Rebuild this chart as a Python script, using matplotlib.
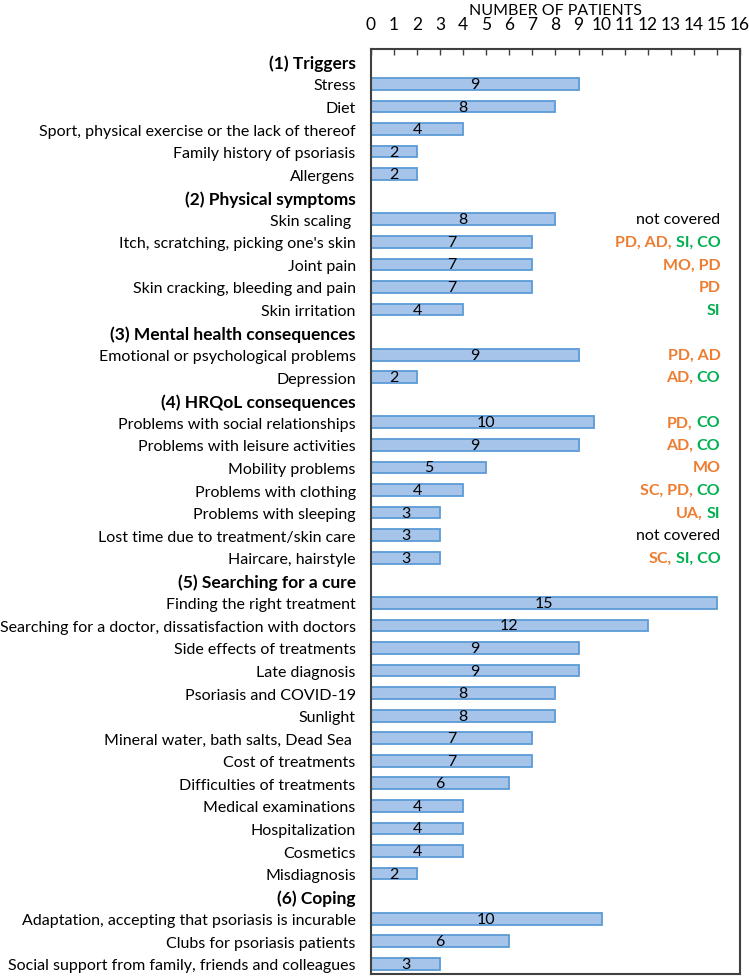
import matplotlib.pyplot as plt
import numpy as np

plt.rcParams['font.family'] = ['Lato', 'DejaVu Sans']

ORANGE = '#ed7d31'
GREEN = '#00b050'
BLACK = '#000000'

section_titles = ['(1) Triggers', '(2) Physical symptoms', '(3) Mental health consequences',
                  '(4) HRQoL consequences', '(5) Searching for a cure', '(6) Coping']

triggers = ['Stress', 'Diet', 'Sport, physical exercise or the lack of thereof',
            'Family history of psoriasis', 'Allergens']
triggers_n = [9, 8, 4, 2, 2]

physical = ['Skin scaling ', "Itch, scratching, picking one's skin", 'Joint pain',
            'Skin cracking, bleeding and pain', 'Skin irritation']
physical_n = [8, 7, 7, 7, 4]

mental = ['Emotional or psychological problems', 'Depression']
mental_n = [9, 2]

hrqol = ['Problems with social relationships', 'Problems with leisure activities',
         'Mobility problems', 'Problems with clothing', 'Problems with sleeping',
         'Lost time due to treatment/skin care', 'Haircare, hairstyle']
hrqol_n = [10, 9, 5, 4, 3, 3, 3]
hrqol_bar = [9.65, 9, 5, 4, 3, 3, 3]   # first bar is drawn a bit short in the source

cure = ['Finding the right treatment', 'Searching for a doctor, dissatisfaction with doctors',
        'Side effects of treatments', 'Late diagnosis', 'Psoriasis and COVID-19', 'Sunlight',
        'Mineral water, bath salts, Dead Sea ', 'Cost of treatments',
        'Difficulties of treatments', 'Medical examinations', 'Hospitalization',
        'Cosmetics', 'Misdiagnosis']
cure_n = [15, 12, 9, 9, 8, 8, 7, 7, 6, 4, 4, 4, 2]

coping = ['Adaptation, accepting that psoriasis is incurable', 'Clubs for psoriasis patients',
          'Social support from family, friends and colleagues']
coping_n = [10, 6, 3]

# right-hand coverage notes, keyed by item label: list of (text, colour)
notes = {
    'Skin scaling ': [('not covered', BLACK)],
    "Itch, scratching, picking one's skin": [('PD, AD,', ORANGE), ('SI, CO', GREEN)],
    'Joint pain': [('MO, PD', ORANGE)],
    'Skin cracking, bleeding and pain': [('PD', ORANGE)],
    'Skin irritation': [('SI', GREEN)],
    'Emotional or psychological problems': [('PD, AD', ORANGE)],
    'Depression': [('AD,', ORANGE), ('CO', GREEN)],
    'Problems with social relationships': [('PD,', ORANGE), ('CO', GREEN)],
    'Problems with leisure activities': [('AD,', ORANGE), ('CO', GREEN)],
    'Mobility problems': [('MO', ORANGE)],
    'Problems with clothing': [('SC, PD,', ORANGE), ('CO', GREEN)],
    'Problems with sleeping': [('UA,', ORANGE), ('SI', GREEN)],
    'Lost time due to treatment/skin care': [('not covered', BLACK)],
    'Haircare, hairstyle': [('SC,', ORANGE), ('SI, CO', GREEN)],
}

groups = [(triggers, triggers_n, triggers_n), (physical, physical_n, physical_n),
          (mental, mental_n, mental_n), (hrqol, hrqol_n, hrqol_bar),
          (cure, cure_n, cure_n), (coping, coping_n, coping_n)]

labels, counts, lengths, is_head = [], [], [], []
for title, (names, n, bl) in zip(section_titles, groups):
    labels.append(title); counts.append(None); lengths.append(0); is_head.append(True)
    for nm, c, b in zip(names, n, bl):
        labels.append(nm); counts.append(c); lengths.append(b); is_head.append(False)

fig = plt.figure(figsize=(7.49, 9.78), dpi=100)
ax = fig.add_axes([0.4953, 0.0031, 0.4927, 0.9458])

ypos = np.arange(len(labels))
for y, c, b, h in zip(ypos, counts, lengths, is_head):
    if h:
        continue
    ax.barh(y, b, height=0.52, color='#a6c3ea', edgecolor='#5b9bd5', linewidth=1.3)
    ax.text(c / 2, y, str(c), ha='center', va='center', fontsize=11.5, color='black')

ax.set_ylim(len(labels) - 0.55, -0.55)
ax.set_xlim(0, 16)
ax.set_yticks(ypos)
ax.set_yticklabels(labels, fontsize=11.5)
for t, h in zip(ax.get_yticklabels(), is_head):
    if h:
        t.set_fontweight('bold')
        t.set_fontsize(12.5)
ax.tick_params(axis='y', length=0, pad=11)

ax.xaxis.tick_top()
ax.xaxis.set_label_position('top')
ax.set_xticks(range(17))
ax.tick_params(axis='x', direction='in', length=4, width=1, pad=12, labelsize=12.5,
               color='#404040')
ax.set_xlabel('NUMBER OF PATIENTS', fontsize=11.5, labelpad=2)

for s in ax.spines.values():
    s.set_color('#404040')
    s.set_linewidth(1.5)

# coverage notes, built right to left
for y, nm in zip(ypos, labels):
    if nm not in notes:
        continue
    parts = notes[nm]
    prev = None
    for txt, col in reversed(parts):
        w = 'normal' if col == BLACK else 'bold'
        if prev is None:
            prev = ax.text(15.15, y, txt, ha='right', va='center', fontsize=11.5,
                           color=col, fontweight=w)
        else:
            prev = ax.annotate(txt, xy=(0, 0), xycoords=prev, xytext=(-3, 0),
                               textcoords='offset points', ha='right', va='bottom',
                               fontsize=11.5, color=col, fontweight=w)

fig.savefig('out.png', dpi=100)
